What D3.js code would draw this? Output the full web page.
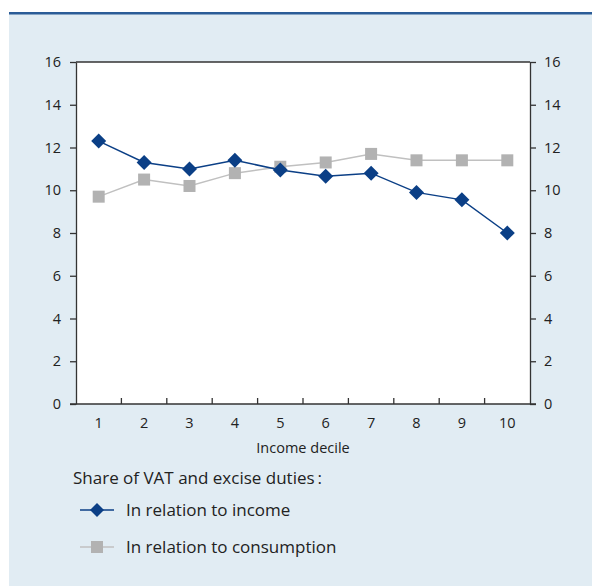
<!DOCTYPE html>
<html><head><meta charset="utf-8">
<script src="https://cdn.jsdelivr.net/npm/d3@7"></script>
<style>body{margin:0;background:#fff}svg{display:block}text{font-family:"Open Sans","Noto Sans",sans-serif;fill:#222}</style>
</head><body><svg id="c" width="592" height="587"></svg>
<script>
const deciles = ["1","2","3","4","5","6","7","8","9","10"];
const incomeShare = [12.3, 11.3, 11.0, 11.4, 10.95, 10.65, 10.8, 9.9, 9.55, 8.0];
const consumptionShare = [9.7, 10.5, 10.2, 10.8, 11.1, 11.3, 11.7, 11.4, 11.4, 11.4];
const yTicks = [0, 2, 4, 6, 8, 10, 12, 14, 16];
const xTitle = "Income decile";
const legendTitle = "Share of VAT and excise duties\u2009:";
const seriesNames = ["In relation to income", "In relation to consumption"];

const svg = d3.select("#c");
const navy = "#0b3f86", grey = "#b2b2b2", greyLine = "#c0c0c0", axisCol = "#333";
svg.append("rect").attr("x",9).attr("y",13).attr("width",583).attr("height",573).attr("fill","#e1ecf3");
svg.append("rect").attr("x",9).attr("y",12).attr("width",583).attr("height",2.5).attr("fill","#2b5c97");

const L=76, R=530, T=62, B=404;
const x = d3.scaleBand().domain(deciles).range([L,R]);
const y = d3.scaleLinear().domain([0,16]).range([B,T]);
svg.append("rect").attr("x",L).attr("y",T).attr("width",R-L).attr("height",B-T).attr("fill","#fff");
svg.append("line").attr("x1",L).attr("x2",R).attr("y1",T).attr("y2",T).attr("stroke",axisCol).attr("stroke-width",1.3);

function styleAxis(g){g.selectAll("path,line").attr("stroke",axisCol).attr("stroke-width",1.3);g.selectAll("text").attr("font-size",14.5).attr("fill","#222").style("font-family",'"Open Sans","Noto Sans",sans-serif');}
const yl = svg.append("g").attr("transform",`translate(${L},0)`).call(d3.axisLeft(y).tickValues(yTicks).tickSize(6).tickPadding(9).tickSizeOuter(0));
styleAxis(yl);
const yr = svg.append("g").attr("transform",`translate(${R},0)`).call(d3.axisRight(y).tickValues(yTicks).tickSize(6).tickPadding(8).tickSizeOuter(0));
styleAxis(yr);
const xa = svg.append("g").attr("transform",`translate(0,${B})`).call(d3.axisBottom(x).tickSize(0).tickPadding(14));
styleAxis(xa);
xa.select("path").remove();
svg.append("line").attr("x1",L-6).attr("x2",R+6).attr("y1",B).attr("y2",B).attr("stroke",axisCol).attr("stroke-width",1.3);
svg.append("g").selectAll("line").data(deciles.slice(1)).join("line")
  .attr("x1",d=>x(d)).attr("x2",d=>x(d)).attr("y1",B).attr("y2",B-6).attr("stroke",axisCol).attr("stroke-width",1.3);
svg.append("text").attr("x",(L+R)/2).attr("y",453).attr("text-anchor","middle").attr("font-size",14.5).text(xTitle);

const cx = d=>x(d)+x.bandwidth()/2;
const line = d3.line().x((d,i)=>cx(deciles[i])).y(d=>y(d));
svg.append("path").datum(consumptionShare).attr("d",line).attr("fill","none").attr("stroke",greyLine).attr("stroke-width",1.5);
svg.append("g").selectAll("rect").data(consumptionShare).join("rect")
  .attr("x",(d,i)=>cx(deciles[i])-6).attr("y",d=>y(d)-6).attr("width",12).attr("height",12).attr("fill",grey);
svg.append("path").datum(incomeShare).attr("d",line).attr("fill","none").attr("stroke",navy).attr("stroke-width",1.5);
const diamond = s=>`M0,${-s}L${s},0L0,${s}L${-s},0Z`;
svg.append("g").selectAll("path").data(incomeShare).join("path")
  .attr("transform",(d,i)=>`translate(${cx(deciles[i])},${y(d)})`).attr("d",diamond(7.5)).attr("fill",navy);

svg.append("text").attr("x",73).attr("y",484).attr("font-size",17).text(legendTitle);
const lg = svg.append("g");
lg.append("line").attr("x1",80).attr("x2",114).attr("y1",510).attr("y2",510).attr("stroke",navy).attr("stroke-width",1.5);
lg.append("path").attr("transform","translate(97,510)").attr("d",diamond(7)).attr("fill",navy);
lg.append("text").attr("x",126).attr("y",516).attr("font-size",17).text(seriesNames[0]);
lg.append("line").attr("x1",80).attr("x2",114).attr("y1",547).attr("y2",547).attr("stroke",greyLine).attr("stroke-width",1.5);
lg.append("rect").attr("x",91).attr("y",541).attr("width",12).attr("height",12).attr("fill",grey);
lg.append("text").attr("x",126).attr("y",553).attr("font-size",17).text(seriesNames[1]);
</script></body></html>
